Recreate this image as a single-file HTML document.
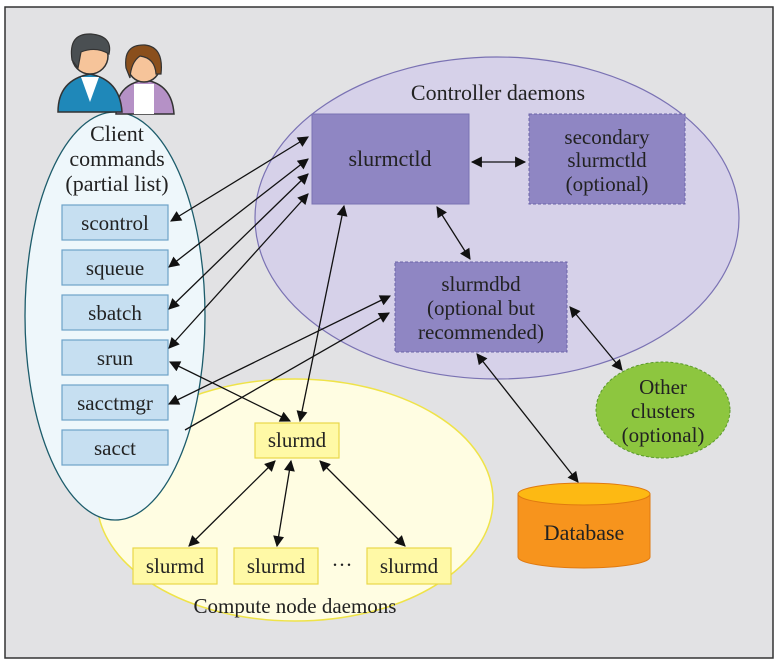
<!DOCTYPE html>
<html><head><meta charset="utf-8"><style>
html,body{margin:0;padding:0;background:#fff;}
svg{display:block;}
text{font-family:"Liberation Serif","DejaVu Serif",serif;}
</style></head><body>
<svg width="780" height="662" viewBox="0 0 780 662" xmlns="http://www.w3.org/2000/svg" font-family="Liberation Serif, serif">
<defs>
<marker id="a" viewBox="0 0 10 10" refX="9" refY="5" markerWidth="12" markerHeight="11" orient="auto-start-reverse" markerUnits="userSpaceOnUse"><path d="M0,0 L10,5 L0,10 z" fill="#111"/></marker>
</defs>
<rect x="5" y="7" width="768" height="651" fill="#e2e2e4" stroke="#333" stroke-width="1.5"/>
<ellipse cx="497" cy="218" rx="242" ry="161" fill="#d6d1e9" stroke="#7a72b3" stroke-width="1.2"/>
<text x="498" y="100" font-size="22" text-anchor="middle" fill="#222">Controller daemons</text>
<ellipse cx="295" cy="500" rx="198" ry="121" fill="#fffde2" stroke="#efe348" stroke-width="1.5"/>
<text x="295" y="613" font-size="21" text-anchor="middle" fill="#222">Compute node daemons</text>
<ellipse cx="115" cy="316" rx="90" ry="204" fill="#eef7fb" stroke="#1c5c6b" stroke-width="1.3"/>
<g>
<path d="M116,114 Q116,84 145,80 Q172,84 174,114 Z" fill="#b591c6" stroke="#333" stroke-width="1.5"/>
<rect x="134" y="84" width="20" height="30" fill="#fff"/>
<circle cx="144" cy="66" r="16" fill="#f6c49a" stroke="#333" stroke-width="1.5"/>
<path d="M126,68 Q123,44 145,45 Q164,47 161,74 L156,74 Q155,58 140,56 Q131,62 130,78 Z" fill="#8a4f1c" stroke="#333" stroke-width="1.2"/>
<path d="M58,112 Q58,80 90,74 Q120,80 122,112 Z" fill="#1f88b9" stroke="#333" stroke-width="1.5"/>
<path d="M81,77 L90,102 L99,77 Z" fill="#fff"/>
<circle cx="90" cy="56" r="18" fill="#f6c49a" stroke="#333" stroke-width="1.5"/>
<path d="M72,60 Q68,33 91,34 Q113,36 109,54 Q96,46 81,52 L78,68 Z" fill="#4a4f52" stroke="#333" stroke-width="1.2"/>
</g>
<g font-size="22" text-anchor="middle" fill="#222">
<text x="117" y="141">Client</text>
<text x="117" y="166">commands</text>
<text x="117" y="191">(partial list)</text>
</g>
<g fill="#c6dff1" stroke="#6ea3c9" stroke-width="1.2">
<rect x="62" y="205" width="106" height="35"/>
<rect x="62" y="250" width="106" height="35"/>
<rect x="62" y="295" width="106" height="35"/>
<rect x="62" y="340" width="106" height="35"/>
<rect x="62" y="385" width="106" height="35"/>
<rect x="62" y="430" width="106" height="35"/>
</g>
<g font-size="21" text-anchor="middle" fill="#222">
<text x="115" y="230">scontrol</text>
<text x="115" y="275">squeue</text>
<text x="115" y="320">sbatch</text>
<text x="115" y="365">srun</text>
<text x="115" y="410">sacctmgr</text>
<text x="115" y="455">sacct</text>
</g>
<rect x="312" y="114" width="157" height="90" fill="#8f86c3" stroke="#7a72b3"/>
<text x="390" y="166" font-size="22" text-anchor="middle" fill="#222">slurmctld</text>
<rect x="529" y="114" width="156" height="90" fill="#8f86c3" stroke="#6b64a8" stroke-dasharray="3,2"/>
<g font-size="21" text-anchor="middle" fill="#222">
<text x="607" y="144">secondary</text><text x="607" y="167">slurmctld</text><text x="607" y="191">(optional)</text>
</g>
<rect x="395" y="262" width="172" height="90" fill="#8f86c3" stroke="#6b64a8" stroke-dasharray="3,2"/>
<g font-size="21" text-anchor="middle" fill="#222">
<text x="481" y="291">slurmdbd</text><text x="481" y="315">(optional but</text><text x="481" y="339">recommended)</text>
</g>
<ellipse cx="663" cy="410" rx="67" ry="48" fill="#8dc63f" stroke="#5a9a2a" stroke-dasharray="3,2"/>
<g font-size="21" text-anchor="middle" fill="#222">
<text x="663" y="394">Other</text><text x="663" y="418">clusters</text><text x="663" y="442">(optional)</text>
</g>
<path d="M518,494 L518,557 A66,11 0 0 0 650,557 L650,494 Z" fill="#f7941d" stroke="#e07a10"/>
<ellipse cx="584" cy="494" rx="66" ry="11" fill="#fdb913" stroke="#e07a10"/>
<text x="584" y="540" font-size="22" text-anchor="middle" fill="#222">Database</text>
<g fill="#fff9a6" stroke="#e8d84a" stroke-width="1.2">
<rect x="255" y="423" width="84" height="35"/>
<rect x="133" y="548" width="84" height="36"/>
<rect x="234" y="548" width="84" height="36"/>
<rect x="367" y="548" width="84" height="36"/>
</g>
<g font-size="21" text-anchor="middle" fill="#222">
<text x="297" y="447">slurmd</text>
<text x="175" y="573">slurmd</text>
<text x="276" y="573">slurmd</text>
<text x="409" y="573">slurmd</text>
<text x="342" y="572">···</text>
</g>
<g stroke="#111" stroke-width="1.3" fill="none" marker-start="url(#a)" marker-end="url(#a)">
<line x1="171" y1="221" x2="308" y2="137"/>
<line x1="169" y1="267" x2="308" y2="159"/>
<line x1="169" y1="309" x2="308" y2="174"/>
<line x1="169" y1="348" x2="308" y2="194"/>
<line x1="169" y1="404" x2="390" y2="296"/>
<line x1="170" y1="362" x2="290" y2="421"/>
<line x1="300" y1="421" x2="344" y2="206"/>
<line x1="472" y1="162" x2="525" y2="162"/>
<line x1="437" y1="207" x2="470" y2="259"/>
<line x1="477" y1="354" x2="578" y2="482"/>
<line x1="570" y1="307" x2="622" y2="370"/>
<line x1="275" y1="461" x2="189" y2="546"/>
<line x1="291" y1="461" x2="277" y2="546"/>
<line x1="320" y1="461" x2="405" y2="546"/>
</g>
<line x1="185" y1="430" x2="389" y2="313" stroke="#111" stroke-width="1.3" marker-end="url(#a)"/>
</svg>
</body></html>
